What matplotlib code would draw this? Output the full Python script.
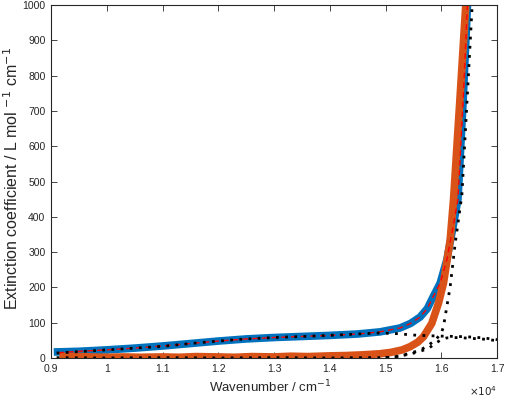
import numpy as np
import matplotlib
matplotlib.use('Agg')
import matplotlib.pyplot as plt

# measured spectrum (blue), second spectrum (orange), fit (red dashed)
blue_wn = [9050, 9500, 10000, 10500, 11000, 11500, 12000, 12500, 13000, 13500,
           14000, 14500, 14900, 15260, 15450, 15620, 15750, 15850, 15980, 16100,
           16210, 16300, 16390, 16470]
blue_val = [17, 19, 23, 28, 34, 41, 48, 54, 58, 61,
            64, 68, 74, 85, 98, 116, 140, 172, 212, 278,
            370, 450, 720, 1000]

orange_wn = [9150, 9300, 9450, 9700, 10000, 10300, 10600, 11000, 11300, 11600,
             12000, 12300, 12600, 13000, 13300, 13600, 14000, 14300, 14600, 14900,
             15100, 15300, 15440, 15580, 15680, 15830, 15950, 16040, 16160, 16220,
             16330, 16440]
orange_val = [6, 4, 5, 3, 2, 3, 2, 3, 2, 4,
              3, 2, 4, 3, 5, 4, 6, 7, 9, 12,
              16, 23, 32, 45, 60, 98, 155, 212, 334, 448,
              720, 1000]

fit_wn = [9130, 9500, 10000, 10500, 11000, 11500, 12000, 12500, 13000, 13500,
          14000, 14500, 14900, 15260, 15450, 15620, 15750, 15850, 15980, 16100,
          16210, 16300, 16390, 16470]
fit_val = [15, 19, 23, 28, 34, 41, 48, 54, 58, 61,
           64, 68, 74, 85, 98, 116, 140, 172, 212, 278,
           370, 450, 720, 1000]

# fitted band components (black dotted)
comp1_wn = [9100, 9500, 10000, 10500, 11000, 11500, 12000, 12500, 13000, 13500,
            14000, 14500, 14900, 15200, 15500, 15800, 16000, 16300, 16600, 16800, 17000]
comp1_val = [14, 18, 23, 28, 33, 41, 48, 54, 58, 61,
             64, 68, 71, 69, 65, 63, 62, 61, 59, 56, 52]

comp2_wn = [9100, 10000, 11000, 12000, 13000, 14000, 14700, 15000, 15250, 15470,
            15620, 15770, 15900, 16000, 16040, 16160, 16250, 16370, 16460, 16555]
comp2_val = [1, 0, 1, 0, 1, 0, 1, 1, 5, 15,
             22, 36, 52, 70, 89, 202, 325, 462, 720, 1000]

comp3_wn = [15000, 15200, 15440, 15600, 15770, 15900, 16000, 16100, 16300, 16600, 16800, 17000]
comp3_val = [1, 4, 11, 18, 27, 42, 52, 57, 58, 55, 53, 49]

plt.rcParams['font.family'] = ['Liberation Sans', 'DejaVu Sans']
text_col = '#262626'

fig = plt.figure(figsize=(5.05, 3.97), dpi=100)
ax = fig.add_axes([51 / 505, 39 / 397, 446 / 505, 353 / 397])

ax.plot(np.array(blue_wn) / 1e4, blue_val, color='#0072BD', lw=5.5, solid_capstyle='butt')
ax.plot(np.array(orange_wn) / 1e4, orange_val, color='#D95319', lw=5.5, solid_capstyle='butt')
ax.plot(np.array(fit_wn) / 1e4, fit_val, color='#FF0000', lw=1, ls=(0, (4, 3)))
dot_style = dict(color='black', lw=2.0, ls=(0, (1, 2.3)), dash_capstyle='butt')
for wn, val in [(comp1_wn, comp1_val), (comp2_wn, comp2_val), (comp3_wn, comp3_val)]:
    ax.plot(np.array(wn) / 1e4, val, **dot_style)

ax.set_xlim(0.9, 1.7)
ax.set_ylim(0, 1000)
ax.set_xticks(np.arange(0.9, 1.71, 0.1))
ax.set_xticklabels(['0.9', '1', '1.1', '1.2', '1.3', '1.4', '1.5', '1.6', '1.7'])
ax.set_yticks(np.arange(0, 1001, 100))
ax.tick_params(direction='in', length=4, width=0.6, top=True, right=True,
               labelsize=7.5, colors=text_col, pad=4)
for s in ax.spines.values():
    s.set_linewidth(0.8)
    s.set_color(text_col)

ax.set_xlabel('Wavenumber / cm$^{-1}$', fontsize=9.5, color=text_col)
ax.xaxis.set_label_coords(0.491, -0.06)
ax.set_ylabel('Extinction coefficient / L mol $^{-1}$ cm$^{-1}$', fontsize=11.5,
              color=text_col)
ax.yaxis.set_label_coords(-0.068, 0.51)
ax.text(1.0, -0.073, r'$\times10^{4}$', transform=ax.transAxes, ha='right', va='top',
        fontsize=7.5, color=text_col)

fig.savefig('out.png', dpi=100)
